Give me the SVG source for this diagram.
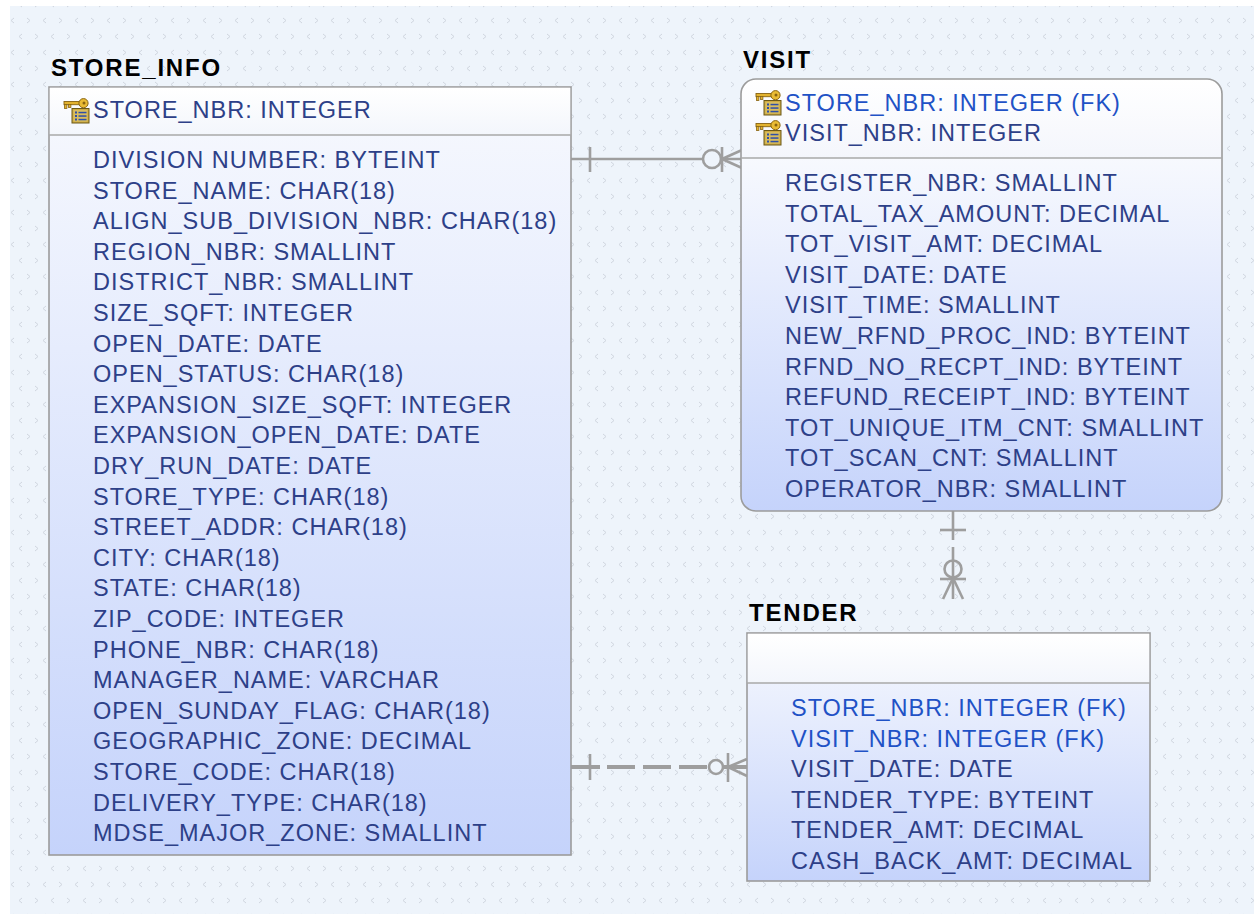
<svg xmlns="http://www.w3.org/2000/svg" width="1254" height="914" viewBox="0 0 1254 914">
<defs>
<style>
.title{font-family:"Liberation Sans",Arial,sans-serif;font-size:24px;font-weight:bold;fill:#000;letter-spacing:1.8px}
.row{font-family:"Liberation Sans",Arial,sans-serif;font-size:23.5px;fill:#2d4088;letter-spacing:1px}
.fk{fill:#1f52c6}
.box{stroke:#9c9c9c;stroke-width:1.6}
.div{stroke:#a8a8a8;stroke-width:1.4}
.conn{stroke:#9e9e9e;stroke-width:2.6;fill:none}
.chev{stroke:#d0d6df;stroke-width:1;fill:none}
</style>
<pattern id="bgp" width="32" height="32" patternUnits="userSpaceOnUse">
<rect width="32" height="32" fill="#eef4fb"/>
<polyline class="chev" points="3,2 6,4.5 3,7"/>
<polyline class="chev" points="22,2 19,4.5 22,7"/>
<polyline class="chev" points="14,18 11,20.5 14,23"/>
<polyline class="chev" points="27,18 30,20.5 27,23"/>
</pattern>
<linearGradient id="gBody" x1="0" y1="0" x2="0" y2="1">
<stop offset="0" stop-color="#f7f9fe"/>
<stop offset="1" stop-color="#c5d3fb"/>
</linearGradient>
<linearGradient id="gHead" x1="0" y1="0" x2="0" y2="1">
<stop offset="0" stop-color="#ffffff"/>
<stop offset="1" stop-color="#f3f6fc"/>
</linearGradient>
<linearGradient id="gVisit" x1="0" y1="0" x2="0" y2="1">
<stop offset="0" stop-color="#ffffff"/>
<stop offset="0.182" stop-color="#f4f6fc"/>
<stop offset="0.183" stop-color="#f7f9fe"/>
<stop offset="1" stop-color="#c5d3fb"/>
</linearGradient>
<symbol id="key" viewBox="0 0 27 26" width="27" height="26">
<rect x="9" y="10.5" width="17" height="14.5" fill="#cdaa42" stroke="#6b5818" stroke-width="1"/>
<rect x="10.5" y="12" width="14" height="11.5" fill="#d9bd5e"/>
<rect x="12" y="13.5" width="2" height="2" fill="#2f4fa8"/>
<rect x="12" y="17" width="2" height="2" fill="#2f4fa8"/>
<rect x="12" y="20.5" width="2" height="2" fill="#2f4fa8"/>
<rect x="15.5" y="13.8" width="8" height="1.5" fill="#2f4fa8"/>
<rect x="15.5" y="17.3" width="8" height="1.5" fill="#2f4fa8"/>
<rect x="15.5" y="20.8" width="8" height="1.5" fill="#2f4fa8"/>
<rect x="1" y="3.5" width="16" height="3.2" fill="#e2b22e" stroke="#876312" stroke-width="0.9"/>
<rect x="1.5" y="6.5" width="2.4" height="4" fill="#e2b22e" stroke="#876312" stroke-width="0.8"/>
<rect x="5.5" y="6.5" width="2.4" height="3" fill="#e2b22e" stroke="#876312" stroke-width="0.8"/>
<circle cx="20.5" cy="5.2" r="4.6" fill="#eabb34" stroke="#876312" stroke-width="1"/>
<circle cx="21" cy="5" r="1.5" fill="#8a6410"/>
</symbol>
</defs>

<rect x="0" y="0" width="1254" height="914" fill="#ffffff"/>
<rect x="10" y="6" width="1244" height="908" fill="url(#bgp)"/>

<g id="connectors">
<line class="conn" x1="571" y1="159" x2="742" y2="159"/>
<line class="conn" x1="590" y1="147" x2="590" y2="172"/>
<circle class="conn" cx="712" cy="159" r="9" style="fill:#eef4fb"/>
<line class="conn" x1="722" y1="147" x2="722" y2="172"/>
<line class="conn" x1="722" y1="159" x2="742" y2="150"/>
<line class="conn" x1="722" y1="159" x2="742" y2="168"/>
<line class="conn" x1="953" y1="511" x2="953" y2="540"/>
<line class="conn" x1="940" y1="530" x2="966" y2="530"/>
<line class="conn" x1="953" y1="547" x2="953" y2="599"/>
<circle class="conn" cx="953" cy="569" r="8.5" style="fill:none"/>
<line class="conn" x1="940" y1="579" x2="966" y2="579"/>
<line class="conn" x1="953" y1="578" x2="943" y2="599"/>
<line class="conn" x1="953" y1="578" x2="963" y2="599"/>
<line class="conn" x1="571" y1="767" x2="600" y2="767" style="stroke-width:4"/>
<line class="conn" x1="590" y1="754" x2="590" y2="780"/>
<line class="conn" x1="607" y1="767" x2="709" y2="767" style="stroke-width:4;stroke-dasharray:28 8"/>
<circle class="conn" cx="716" cy="767" r="7" style="fill:#eef4fb"/>
<line class="conn" x1="723" y1="767" x2="747" y2="767" style="stroke-width:4"/>
<line class="conn" x1="728" y1="753" x2="728" y2="782"/>
<line class="conn" x1="728" y1="767" x2="747" y2="759"/>
<line class="conn" x1="728" y1="767" x2="747" y2="776"/>
</g>

<g id="STORE_INFO">
<text class="title" x="51" y="76">STORE_INFO</text>
<rect class="box" x="49" y="87" width="522" height="768" fill="url(#gBody)"/>
<rect x="49.8" y="87.8" width="520.4" height="47.2" fill="url(#gHead)"/>
<line class="div" x1="49" y1="135" x2="571" y2="135"/>
<use href="#key" x="63" y="98"/>
<text class="row" x="93" y="118">STORE_NBR: INTEGER</text>
<text class="row" x="93" y="168">DIVISION NUMBER: BYTEINT</text>
<text class="row" x="93" y="198.6">STORE_NAME: CHAR(18)</text>
<text class="row" x="93" y="229.2">ALIGN_SUB_DIVISION_NBR: CHAR(18)</text>
<text class="row" x="93" y="259.8">REGION_NBR: SMALLINT</text>
<text class="row" x="93" y="290.4">DISTRICT_NBR: SMALLINT</text>
<text class="row" x="93" y="321">SIZE_SQFT: INTEGER</text>
<text class="row" x="93" y="351.6">OPEN_DATE: DATE</text>
<text class="row" x="93" y="382.2">OPEN_STATUS: CHAR(18)</text>
<text class="row" x="93" y="412.8">EXPANSION_SIZE_SQFT: INTEGER</text>
<text class="row" x="93" y="443.4">EXPANSION_OPEN_DATE: DATE</text>
<text class="row" x="93" y="474">DRY_RUN_DATE: DATE</text>
<text class="row" x="93" y="504.6">STORE_TYPE: CHAR(18)</text>
<text class="row" x="93" y="535.2">STREET_ADDR: CHAR(18)</text>
<text class="row" x="93" y="565.8">CITY: CHAR(18)</text>
<text class="row" x="93" y="596.4">STATE: CHAR(18)</text>
<text class="row" x="93" y="627">ZIP_CODE: INTEGER</text>
<text class="row" x="93" y="657.6">PHONE_NBR: CHAR(18)</text>
<text class="row" x="93" y="688.2">MANAGER_NAME: VARCHAR</text>
<text class="row" x="93" y="718.8">OPEN_SUNDAY_FLAG: CHAR(18)</text>
<text class="row" x="93" y="749.4">GEOGRAPHIC_ZONE: DECIMAL</text>
<text class="row" x="93" y="780">STORE_CODE: CHAR(18)</text>
<text class="row" x="93" y="810.6">DELIVERY_TYPE: CHAR(18)</text>
<text class="row" x="93" y="841.2">MDSE_MAJOR_ZONE: SMALLINT</text>
</g>

<g id="VISIT">
<text class="title" x="743" y="68">VISIT</text>
<rect class="box" x="741" y="79" width="481" height="432" rx="15" ry="15" fill="url(#gVisit)"/>
<line class="div" x1="741" y1="158" x2="1222" y2="158"/>
<use href="#key" x="755" y="90"/>
<use href="#key" x="755" y="120"/>
<text class="row fk" x="785" y="111">STORE_NBR: INTEGER (FK)</text>
<text class="row" x="785" y="141">VISIT_NBR: INTEGER</text>
<text class="row" x="785" y="191">REGISTER_NBR: SMALLINT</text>
<text class="row" x="785" y="221.6">TOTAL_TAX_AMOUNT: DECIMAL</text>
<text class="row" x="785" y="252.2">TOT_VISIT_AMT: DECIMAL</text>
<text class="row" x="785" y="282.8">VISIT_DATE: DATE</text>
<text class="row" x="785" y="313.4">VISIT_TIME: SMALLINT</text>
<text class="row" x="785" y="344">NEW_RFND_PROC_IND: BYTEINT</text>
<text class="row" x="785" y="374.6">RFND_NO_RECPT_IND: BYTEINT</text>
<text class="row" x="785" y="405.2">REFUND_RECEIPT_IND: BYTEINT</text>
<text class="row" x="785" y="435.8">TOT_UNIQUE_ITM_CNT: SMALLINT</text>
<text class="row" x="785" y="466.4">TOT_SCAN_CNT: SMALLINT</text>
<text class="row" x="785" y="497">OPERATOR_NBR: SMALLINT</text>
</g>

<g id="TENDER">
<text class="title" x="749" y="621">TENDER</text>
<rect class="box" x="747" y="633" width="403" height="248" fill="url(#gBody)"/>
<rect x="747.8" y="633.8" width="401.4" height="49.2" fill="url(#gHead)"/>
<line class="div" x1="747" y1="683" x2="1150" y2="683"/>
<text class="row fk" x="791" y="716">STORE_NBR: INTEGER (FK)</text>
<text class="row fk" x="791" y="746.6">VISIT_NBR: INTEGER (FK)</text>
<text class="row" x="791" y="777.2">VISIT_DATE: DATE</text>
<text class="row" x="791" y="807.8">TENDER_TYPE: BYTEINT</text>
<text class="row" x="791" y="838.4">TENDER_AMT: DECIMAL</text>
<text class="row" x="791" y="869">CASH_BACK_AMT: DECIMAL</text>
</g>
</svg>
